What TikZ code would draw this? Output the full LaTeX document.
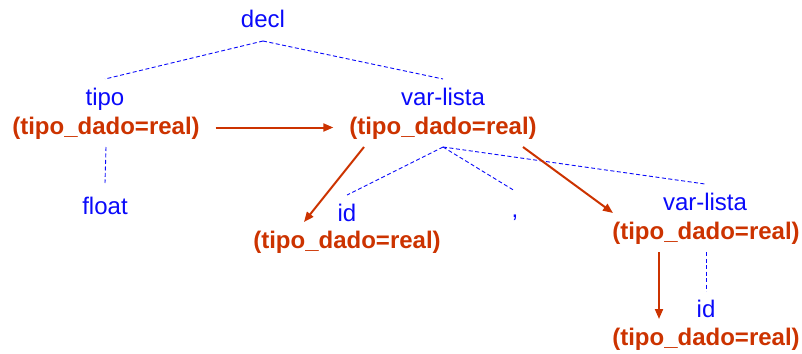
\documentclass[tikz,border=0pt]{standalone}
\usepackage{fontspec}
\setmainfont{Liberation Sans}
\usetikzlibrary{arrows.meta}
\definecolor{symblue}{RGB}{10,10,250}
\definecolor{attrred}{RGB}{204,51,0}
\begin{document}
\begin{tikzpicture}[x=1pt,y=-1pt,
  lbl/.style={anchor=base,inner sep=0pt,outer ysep=8pt,outer xsep=8pt,
    text height=18pt,text depth=5pt,font=\fontsize{24}{28}\selectfont,text=symblue},
  attr/.style={lbl,outer xsep=16pt,font=\fontsize{24}{28}\selectfont\bfseries,text=attrred},
  tree/.style={draw=symblue,line width=0.9pt,dash pattern=on 4pt off 2.5pt},
  flow/.style={draw=attrred,line width=2pt,-{Triangle[length=10pt,width=8pt]}}]
\path[use as bounding box] (0,0) rectangle (802,353);

% grammar symbols
\node[lbl] (decl)  at (263,28)  {decl};
\node[lbl] (tipo)  at (105,105) {tipo};
\node[lbl] (float) at (105,214) {float};
\node[lbl] (vl)    at (443,105) {var-lista};
\node[lbl] (idA)   at (347,221) {id};
\node[lbl] (comma) at (515,217) {,};
\node[lbl] (vlB)   at (705,210) {var-lista};
\node[lbl] (idB)   at (706,317) {id};

% inherited attribute values
\node[attr] (tipoT) at (106,134) {(tipo\_dado=real)};
\node[attr] (vlT)   at (443,134) {(tipo\_dado=real)};
\node[attr] (idAT)  at (347,248) {(tipo\_dado=real)};
\node[attr] (vlBT)  at (706,239) {(tipo\_dado=real)};
\node[attr] (idBT)  at (706,345) {(tipo\_dado=real)};

% parse tree edges
\draw[tree] (decl.south) -- (tipo.north);
\draw[tree] (decl.south) -- (vl.north);
\draw[tree] (tipoT.south) -- ([yshift=5pt]float.north);
\draw[tree] (vlT.south) -- (idA.north);
\draw[tree] (vlT.south) -- (comma.north);
\draw[tree] (vlT.south) -- (vlB.north);
\draw[tree] (vlBT.south) -- (idB.north);

% attribute flow
\draw[flow] (tipoT.east) -- (vlT.west);
\draw[flow] ([xshift=-79pt]vlT.south) -- ([xshift=-43pt]idAT.north);
\draw[flow] ([xshift=80pt]vlT.south) -- ([xshift=-93pt]vlBT.north);
\draw[flow] ([xshift=-47pt]vlBT.south) -- ([xshift=-47pt]idBT.north);
\end{tikzpicture}
\end{document}
